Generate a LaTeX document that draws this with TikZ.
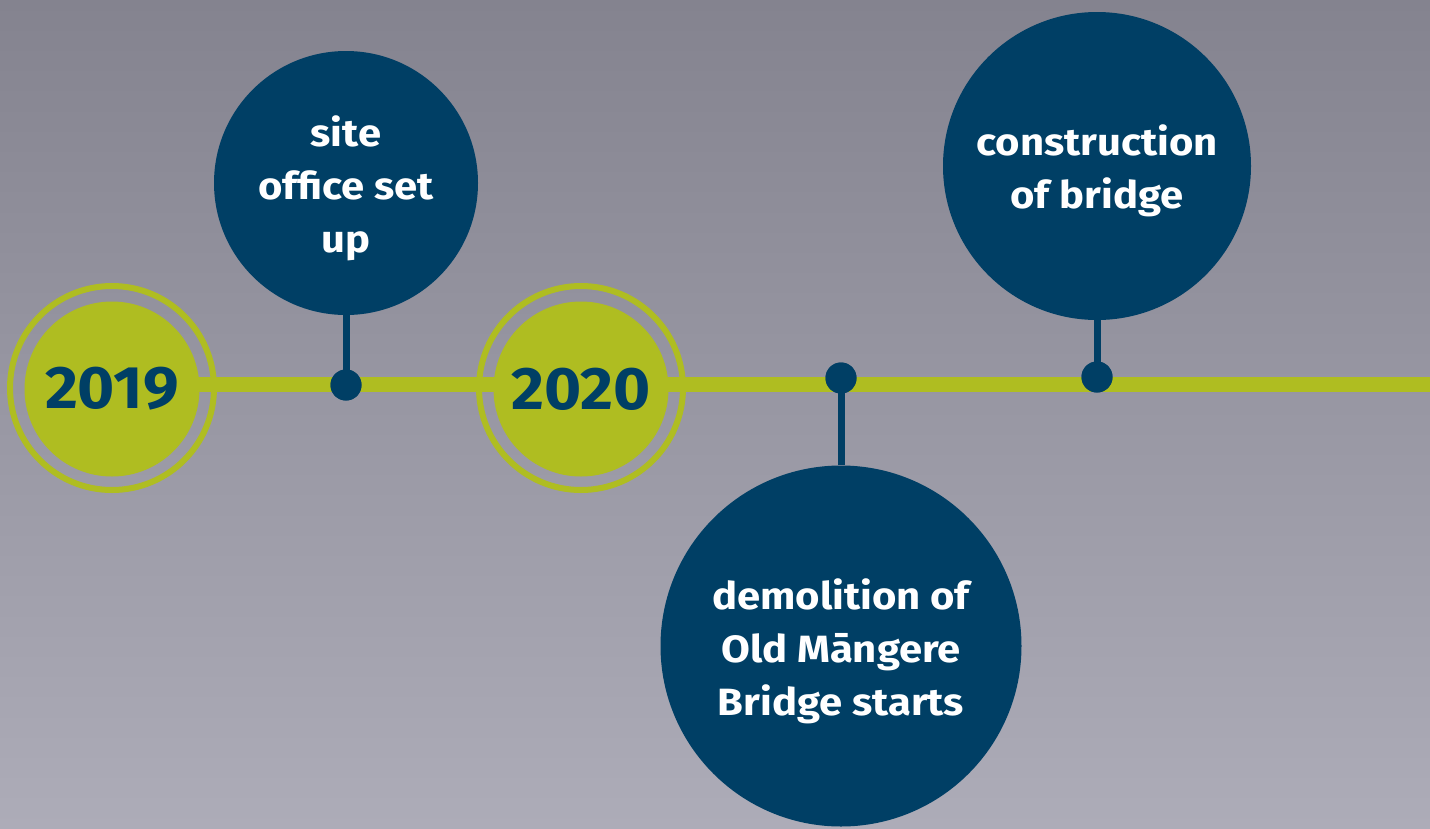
\documentclass[tikz,border=0pt]{standalone}
\usepackage{fontspec}
\setmainfont{Fira Sans}
\newfontfamily\labelfont[FakeStretch=1.1]{Fira Sans}
\newfontfamily\yearfont[FakeStretch=1.06]{Fira Sans}
\newcommand\tlift{\rule{0pt}{41pt}}
\definecolor{navy}{HTML}{003F65}
\definecolor{lime}{HTML}{AFBD21}
\definecolor{bgtop}{HTML}{84838F}
\definecolor{bgbot}{HTML}{ADACB8}
\begin{document}
\begin{tikzpicture}[x=1pt,y=-1pt,
  year/.style={circle, fill=lime, minimum size=175pt, inner sep=0pt, text=navy,
    font=\yearfont\fontsize{60}{60}\selectfont\bfseries},
  ring/.style={circle, draw=lime, line width=6pt, minimum size=204pt, inner sep=0pt},
  event/.style={circle, fill=navy, inner sep=0pt, text=white, align=center,
    font=\labelfont\fontsize{38}{53}\selectfont\bfseries},
  dot/.style={circle, fill=navy, minimum size=31pt, inner sep=0pt},
  stem/.style={draw=navy, line width=7pt},
  tl/.style={draw=lime, line width=15pt}]
\useasboundingbox (0,0) rectangle (1430,828);
\shade[top color=bgtop, bottom color=bgbot] (0,0) rectangle (1430,828);
\coordinate (linestart) at (112,384);
\coordinate (lineend) at (1430,384);
\draw[tl] (linestart) -- (lineend);
% year markers
\node[ring] (r19) at (112,388) {};
\node[year] (y19) at (112,389) {2019};
\node[ring] (r20) at (581,388) {};
\node[year] (y20) at (581,389) {2020};
% events
\node[dot] (d1) at (346,385) {};
\node[event, minimum size=264pt] (site) at (346,183) {\tlift site\\office set\\up};
\draw[stem] (site.south) -- (d1.center);
\node[dot] (d2) at (841,378) {};
\node[event, minimum size=361pt] (demo) at (841,646) {\tlift demolition of\\Old Māngere\\Bridge starts};
\draw[stem] (demo.north) -- (d2.center);
\node[dot] (d3) at (1097,377) {};
\node[event, minimum size=308pt] (cons) at (1097,166) {\tlift construction\\of bridge};
\draw[stem] (cons.south) -- (d3.center);
\node[dot] at (d1) {};
\node[dot] at (d2) {};
\node[dot] at (d3) {};
\end{tikzpicture}
\end{document}
